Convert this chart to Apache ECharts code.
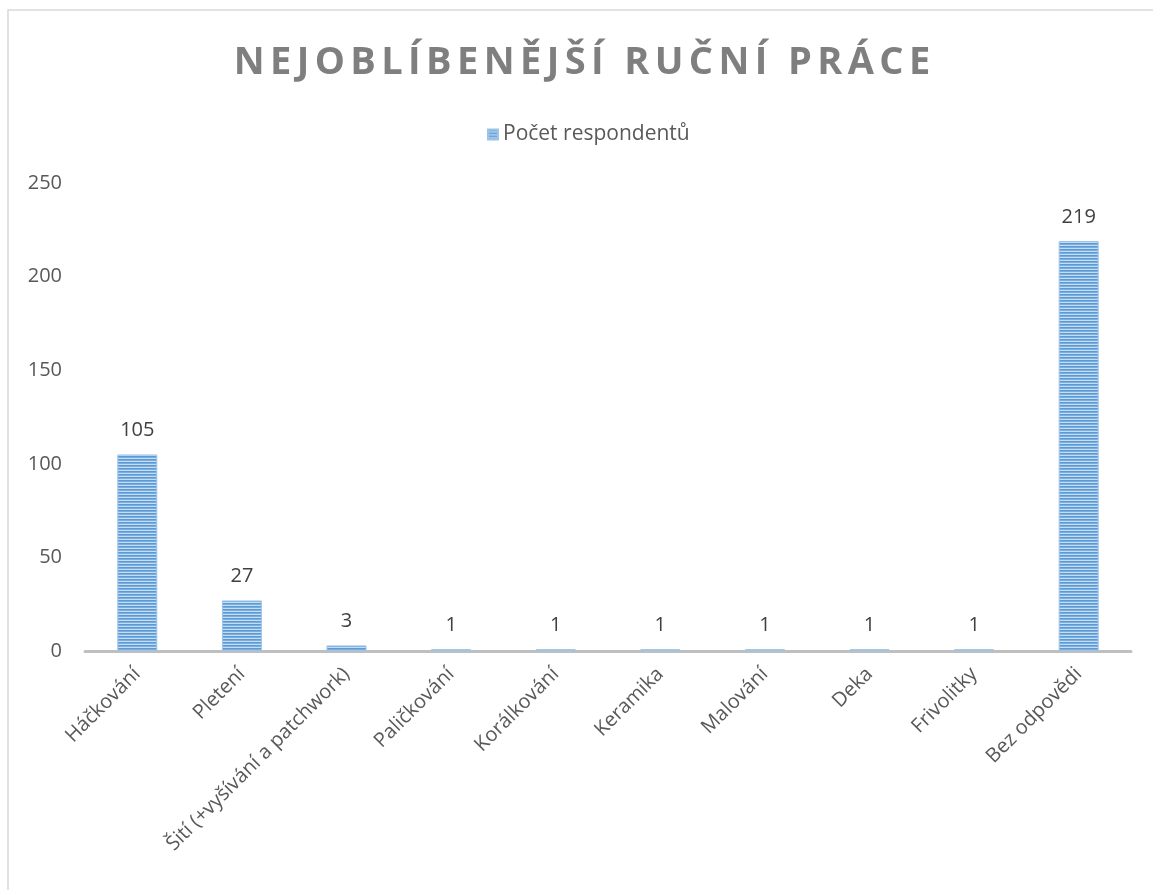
<!DOCTYPE html>
<html>
<head>
<meta charset="utf-8">
<script src="https://cdn.jsdelivr.net/npm/echarts@6/dist/echarts.min.js"></script>
<style>
  html, body { margin: 0; padding: 0; background: #fff; }
  #main { width: 1153px; height: 890px; }
</style>
</head>
<body>
<div id="main"></div>
<script>
var categories = ['Háčkování', 'Pletení', 'Šití (+vyšívání a patchwork)', 'Paličkování', 'Korálkování', 'Keramika', 'Malování', 'Deka', 'Frivolitky', 'Bez odpovědi'];
var counts = [105, 27, 3, 1, 1, 1, 1, 1, 1, 219];
var seriesName = 'Počet respondentů';
var chartTitle = 'NEJOBLÍBENĚJŠÍ RUČNÍ PRÁCE';

// prostrkaný nadpis - každé písmeno jako samostatný rich segment
var spacedTitle = chartTitle.split('').map(function (ch) {
  return '{s|' + ch + '}';
}).join('');

// pruhovaná výplň sloupců
var pat = document.createElement('canvas');
pat.width = 4; pat.height = 3;
var pc = pat.getContext('2d');
pc.fillStyle = '#5b9bd5'; pc.fillRect(0, 0, 4, 1);
pc.fillStyle = '#7aaee0'; pc.fillRect(0, 1, 4, 1);
pc.fillStyle = '#c5dcf2'; pc.fillRect(0, 2, 4, 1);

var myChart = echarts.init(document.getElementById('main'));
var option = {
  animation: false,
  backgroundColor: '#fff',
  textStyle: { fontFamily: 'Open Sans' },
  title: {
    text: spacedTitle,
    left: 226,
    top: 39,
    textStyle: {
      rich: {
        s: { fontFamily: 'Open Sans', fontWeight: 'bold', fontSize: 38, color: '#7f7f7f', padding: [0, 2.7] }
      }
    }
  },
  legend: {
    data: [seriesName],
    top: 119,
    left: 482,
    itemWidth: 10,
    itemHeight: 10,
    icon: 'rect',
    itemGap: 6,
    textStyle: { fontSize: 21, color: '#595959' }
  },
  graphic: [{
    type: 'rect',
    shape: { x: 8, y: 10, width: 1200, height: 1000 },
    style: { fill: 'none', stroke: '#d9d9d9', lineWidth: 1.5 },
    silent: true
  }],
  grid: { left: 85, right: 22, top: 183, bottom: 239 },
  xAxis: {
    type: 'category',
    data: categories,
    axisLine: { lineStyle: { color: '#bfbfbf', width: 3 } },
    axisTick: { show: false },
    axisLabel: { rotate: 45, interval: 0, margin: 20, fontSize: 20, color: '#595959' }
  },
  yAxis: {
    type: 'value',
    min: 0, max: 250, interval: 50,
    splitLine: { show: false },
    axisLine: { show: false },
    axisTick: { show: false },
    axisLabel: { fontSize: 20, color: '#595959', margin: 23 }
  },
  series: [{
    name: seriesName,
    type: 'bar',
    data: counts,
    barWidth: 40,
    itemStyle: {
      color: { image: pat, repeat: 'repeat' },
      borderColor: '#9dc3e6',
      borderWidth: 1
    },
    label: { show: true, position: 'top', distance: 14, fontSize: 20, color: '#404040' }
  }]
};
myChart.setOption(option);
window.addEventListener('resize', function () {
  myChart.resize();
});
</script>
</body>
</html>
